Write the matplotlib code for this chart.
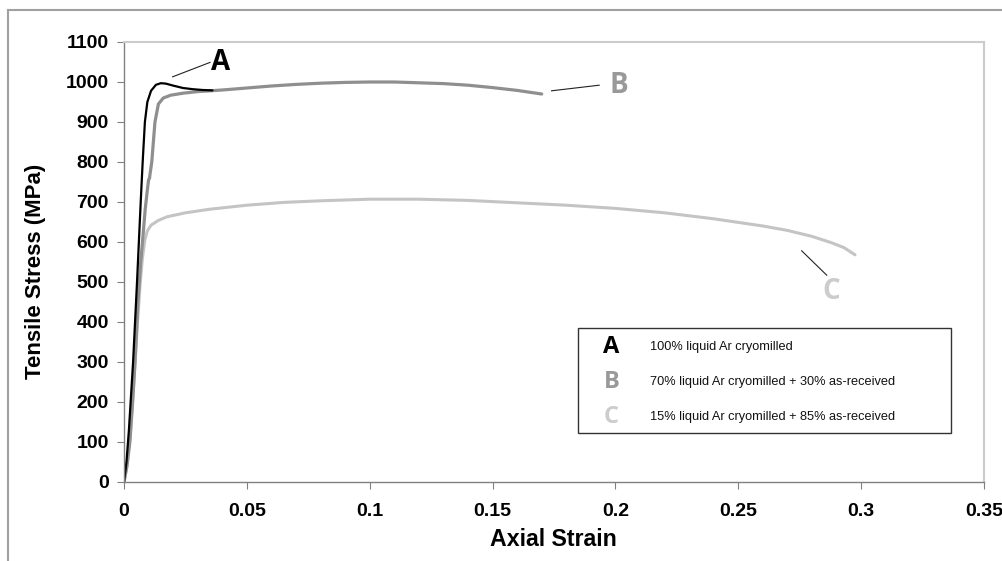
import matplotlib
matplotlib.use('Agg')
import matplotlib.pyplot as plt
from matplotlib.lines import Line2D
from matplotlib.patches import Rectangle

plt.rcParams['font.family'] = ['Liberation Sans', 'DejaVu Sans']

# 데이터
strain_a = [0, 0.0010, 0.0020, 0.0037, 0.0053, 0.0068, 0.0076, 0.0085, 0.0095, 0.011,
            0.013, 0.015, 0.017, 0.020, 0.024, 0.028, 0.032, 0.036]
stress_a = [0, 50, 130, 300, 500, 700, 800, 900, 950, 978,
            993, 997, 996, 991, 985, 982, 980, 979]

strain_b = [0, 0.0012, 0.0024, 0.0035, 0.0045, 0.0057, 0.0068, 0.0078, 0.0086, 0.0095,
            0.0100, 0.0104, 0.0106, 0.0113, 0.0126, 0.0140, 0.016, 0.019, 0.024, 0.03,
            0.04, 0.05, 0.06, 0.07, 0.08, 0.09, 0.10, 0.11, 0.12, 0.13,
            0.14, 0.15, 0.16, 0.17]
stress_b = [0, 40, 100, 200, 300, 450, 550, 620, 680, 730,
            755, 760, 770, 800, 900, 945, 960, 967, 972, 976,
            980, 985, 990, 994, 997, 999, 1000, 1000, 998, 996,
            992, 986, 979, 970]

strain_c = [0, 0.0012, 0.0024, 0.0035, 0.0045, 0.0055, 0.0065, 0.0075, 0.0085, 0.0095,
            0.011, 0.014, 0.0175, 0.025, 0.035, 0.05, 0.065, 0.08, 0.1, 0.12,
            0.14, 0.16, 0.18, 0.2, 0.22, 0.24, 0.26, 0.27, 0.28, 0.288, 0.293, 0.2975]
stress_c = [0, 40, 110, 200, 300, 400, 490, 560, 605, 628,
            642, 654, 663, 673, 682, 692, 699, 703, 707, 707,
            704, 698, 692, 684, 673, 658, 640, 629, 614, 598, 586, 568]

labels = ['A', 'B', 'C']
descriptions = ['100% liquid Ar cryomilled',
                '70% liquid Ar cryomilled + 30% as-received',
                '15% liquid Ar cryomilled + 85% as-received']
line_colors = ['#000000', '#8f8f8f', '#c4c4c4']
letter_colors = ['#000000', '#999999', '#cccccc']

fig = plt.figure(figsize=(10.03, 5.61), dpi=100)
ax = fig.add_axes([124/1003, 1 - 482/561, 860/1003, 440/561])

ax.plot(strain_c, stress_c, color=line_colors[2], lw=2.2, solid_capstyle='round')
ax.plot(strain_b, stress_b, color=line_colors[1], lw=2.3, solid_capstyle='round')
ax.plot(strain_a, stress_a, color=line_colors[0], lw=1.6, solid_capstyle='round')

ax.set_xlim(0, 0.35)
ax.set_ylim(0, 1100)
ax.set_xticks([0, 0.05, 0.1, 0.15, 0.2, 0.25, 0.3, 0.35])
ax.set_xticklabels(['0', '0.05', '0.1', '0.15', '0.2', '0.25', '0.3', '0.35'])
ax.set_yticks(range(0, 1101, 100))

for s in ['left', 'bottom']:
    ax.spines[s].set_color('#808080')
    ax.spines[s].set_linewidth(1.0)
for s in ['top', 'right']:
    ax.spines[s].set_color('#cccccc')
    ax.spines[s].set_linewidth(1.5)

ax.tick_params(axis='both', direction='out', length=5, color='#808080', labelsize=14)
ax.tick_params(axis='x', pad=10)
ax.tick_params(axis='y', pad=6)
for t in ax.get_xticklabels() + ax.get_yticklabels():
    t.set_fontweight('bold')

fig.text(553/1003, 1 - 540/561, 'Axial Strain', ha='center', va='center',
         fontsize=16.7, fontweight='bold')
fig.text(36/1003, 1 - 271/561, 'Tensile Stress (MPa)', ha='center', va='center',
         rotation=90, fontsize=16, fontweight='bold')

# 곡선 라벨
letter_font = ['Open Sans', 'DejaVu Sans']
ann = [((0.0198, 1013), (0.0350, 1049), (0.0395, 1050)),
       ((0.1740, 978), (0.1934, 992), (0.2015, 992)),
       ((0.2758, 578), (0.2860, 517), (0.2880, 476))]
for (p0, p1, pt), lab, col in zip(ann, labels, letter_colors):
    ax.add_line(Line2D([p0[0], p1[0]], [p0[1], p1[1]], color='#222222', lw=0.8))
    ax.text(pt[0], pt[1], lab, ha='center', va='center', fontsize=20,
            fontweight='bold', color=col, family=letter_font)

# 범례 상자
ax.add_patch(Rectangle((0.528, 0.111), 0.4336, 0.239, transform=ax.transAxes,
                       facecolor='white', edgecolor='#333333', lw=1.0, zorder=5))
row_y = [0.3075, 0.228, 0.148]
for y, lab, desc, col in zip(row_y, labels, descriptions, letter_colors):
    ax.text(0.567, y, lab, transform=ax.transAxes, ha='center', va='center',
            fontsize=17, fontweight='bold', color=col, family=letter_font, zorder=6)
    ax.text(0.612, y, desc, transform=ax.transAxes, ha='left', va='center',
            fontsize=9.2, color='#111111', zorder=6)

# 바깥 테두리
fig.add_artist(Line2D([8/1003, 1], [1 - 10/561, 1 - 10/561], color='#a0a0a0', lw=1.5))
fig.add_artist(Line2D([8/1003, 8/1003], [0, 1 - 10/561], color='#a0a0a0', lw=1.5))

fig.savefig('out.png', dpi=100)
